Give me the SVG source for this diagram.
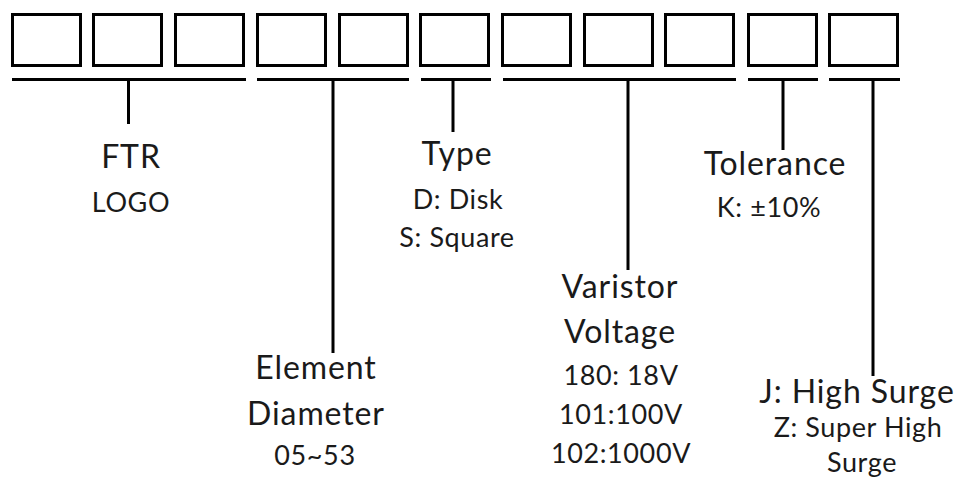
<svg xmlns="http://www.w3.org/2000/svg" width="959" height="486" viewBox="0 0 959 486">
<style>
.box{fill:#fff;stroke:#000;stroke-width:3}
.ln{stroke:#000;stroke-width:3;fill:none}
text{font-family:Lato,"Open Sans","Liberation Sans",sans-serif;fill:#1a1a1a;text-anchor:middle}
.h{font-size:32px;letter-spacing:0.9px}
.s{font-size:27px;letter-spacing:0.6px}
</style>
<rect width="959" height="486" fill="#fff"/>
<g id="boxes">
<rect id="box1" class="box" x="12.5" y="14.5" width="68" height="51"/>
<rect id="box2" class="box" x="93.5" y="14.5" width="68" height="51"/>
<rect id="box3" class="box" x="175.5" y="14.5" width="68" height="51"/>
<rect id="box4" class="box" x="257.5" y="14.5" width="68" height="51"/>
<rect id="box5" class="box" x="339.5" y="14.5" width="68" height="51"/>
<rect id="box6" class="box" x="420.5" y="14.5" width="68" height="51"/>
<rect id="box7" class="box" x="502.5" y="14.5" width="68" height="51"/>
<rect id="box8" class="box" x="584.5" y="14.5" width="68" height="51"/>
<rect id="box9" class="box" x="665.5" y="14.5" width="68" height="51"/>
<rect id="box10" class="box" x="748.5" y="14.5" width="68" height="51"/>
<rect id="box11" class="box" x="829.5" y="14.5" width="68" height="51"/>
</g>
<g id="connectors">
<path class="ln" d="M12 79.5H246M128.5 79.5V124"/>
<path class="ln" d="M257 79.5H409M333 79.5V353"/>
<path class="ln" d="M421 79.5H491M453 79.5V132"/>
<path class="ln" d="M503 79.5H736M628 79.5V270"/>
<path class="ln" d="M748 79.5H818M783 79.5V150"/>
<path class="ln" d="M829 79.5H900M873 79.5V376"/>
</g>
<g id="logo">
<text class="h" x="131" y="168">FTR</text>
<text class="s" x="131" y="212">LOGO</text>
</g>
<g id="diameter">
<text class="h" x="316" y="379">Element</text>
<text class="h" x="316" y="425">Diameter</text>
<text class="s" x="315" y="465">05~53</text>
</g>
<g id="type">
<text class="h" x="457" y="165">Type</text>
<text class="s" x="458" y="209">D: Disk</text>
<text class="s" x="457" y="247">S: Square</text>
</g>
<g id="voltage">
<text class="h" x="620" y="298">Varistor</text>
<text class="h" x="620" y="343">Voltage</text>
<text class="s" x="621" y="385">180: 18V</text>
<text class="s" x="621" y="424">101:100V</text>
<text class="s" x="621" y="463">102:1000V</text>
</g>
<g id="tolerance">
<text class="h" x="775" y="175">Tolerance</text>
<text class="s" x="769" y="217">K: ±10%</text>
</g>
<g id="surge">
<text class="h" x="857" y="403">J: High Surge</text>
<text class="s" x="858" y="437">Z: Super High</text>
<text class="s" x="862" y="472">Surge</text>
</g>
</svg>
